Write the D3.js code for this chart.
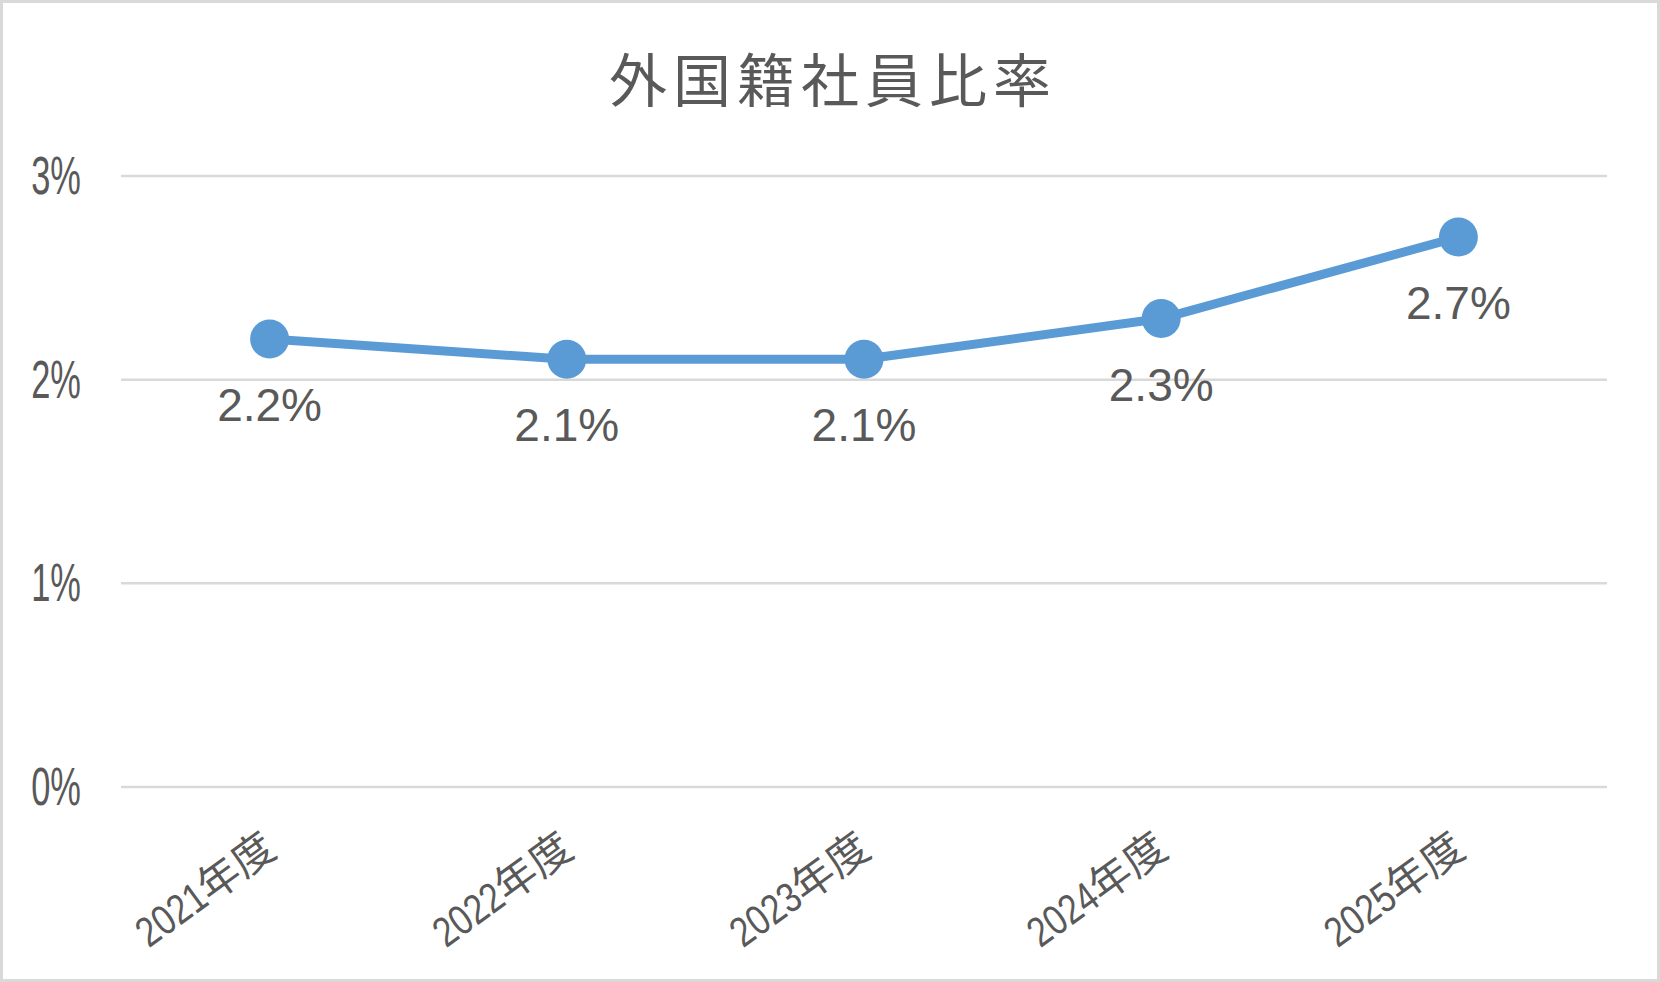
<!DOCTYPE html>
<html>
<head>
<meta charset="utf-8">
<style>
  body { margin: 0; background: #ffffff; }
  .chart { width: 1660px; height: 982px; }
</style>
</head>
<body>
<div class="chart"></div>
<script src="https://d3js.org/d3.v7.min.js"></script>
<script>
  // data
  const years = ['2021', '2022', '2023', '2024', '2025'];
  const yearSuffix = '年度';
  const ratios = [0.022, 0.021, 0.021, 0.023, 0.027];
  const yTicks = [0, 0.01, 0.02, 0.03];
  const chartTitle = '外国籍社員比率';

  const width = 1660,
        height = 982;
  const textColor = '#595959',
        lineColor = '#5b9bd5',
        gridColor = '#d9d9d9';

  const svg = d3.select('.chart')
                .append('svg')
                .attr('width', width)
                .attr('height', height);

  // outer frame
  svg.append('rect')
     .attr('x', 1.5).attr('y', 1.5)
     .attr('width', width - 3).attr('height', height - 3)
     .attr('fill', '#fff')
     .attr('stroke', gridColor)
     .attr('stroke-width', 3);

  svg.append('text')
     .attr('x', width / 2 + 3)
     .attr('y', 102)
     .attr('text-anchor', 'middle')
     .style('font-family', '"Noto Sans CJK JP", sans-serif')
     .style('font-size', '58px')
     .style('letter-spacing', '6px')
     .style('fill', textColor)
     .text(chartTitle);

  const xScale = d3.scalePoint()
                   .domain(years)
                   .range([121, 1607])
                   .padding(0.5);

  const yScale = d3.scaleLinear()
                   .domain([0, 0.03])
                   .range([787, 176]);

  // gridlines
  svg.append('g')
     .selectAll('line')
     .data(yTicks)
     .join('line')
     .attr('x1', 121)
     .attr('x2', 1607)
     .attr('y1', d => yScale(d))
     .attr('y2', d => yScale(d))
     .attr('stroke', gridColor)
     .attr('stroke-width', 2.5);

  // y labels (narrow face)
  svg.append('g')
     .selectAll('text')
     .data(yTicks)
     .join('text')
     .attr('transform', d => `translate(81,${yScale(d) + 18}) scale(0.65,1)`)
     .attr('text-anchor', 'end')
     .style('font-family', '"Liberation Sans", Arial, sans-serif')
     .style('font-size', '53px')
     .style('fill', textColor)
     .text(d => d3.format('.0%')(d));

  // x labels: narrow digits + 年度, rotated
  const labelSize = 42;
  const xLabel = svg.append('g')
     .selectAll('g')
     .data(years)
     .join('g')
     .attr('transform', d => `translate(${xScale(d) + 9},854) rotate(-36)`);

  xLabel.append('text')
     .attr('text-anchor', 'end')
     .style('font-family', '"Noto Sans CJK JP", sans-serif')
     .style('font-size', labelSize + 'px')
     .style('fill', textColor)
     .text(yearSuffix);

  xLabel.append('text')
     .attr('transform', `translate(${-2 * labelSize},0) scale(0.82,1)`)
     .attr('text-anchor', 'end')
     .style('font-family', '"Liberation Sans", Arial, sans-serif')
     .style('font-size', labelSize + 'px')
     .style('fill', textColor)
     .text(d => d);

  const input_data = years.map((y, i) => [y, ratios[i]]);

  const lineChart = d3.line()
                      .x(d => xScale(d[0]))
                      .y(d => yScale(d[1]));

  svg.append('path')
     .attr('d', lineChart(input_data))
     .attr('fill', 'none')
     .attr('stroke', lineColor)
     .attr('stroke-width', 9)
     .attr('stroke-linejoin', 'round');

  svg.append('g')
     .selectAll('circle')
     .data(input_data)
     .join('circle')
     .attr('cx', d => xScale(d[0]))
     .attr('cy', d => yScale(d[1]))
     .attr('r', 19.5)
     .attr('fill', lineColor);

  // value labels under the points
  svg.append('g')
     .selectAll('text')
     .data(input_data)
     .join('text')
     .attr('x', d => xScale(d[0]))
     .attr('y', d => yScale(d[1]) + 82)
     .attr('text-anchor', 'middle')
     .style('font-family', '"Liberation Sans", Arial, sans-serif')
     .style('font-size', '46px')
     .style('fill', textColor)
     .text(d => d3.format('.1%')(d[1]));
</script>
</body>
</html>
